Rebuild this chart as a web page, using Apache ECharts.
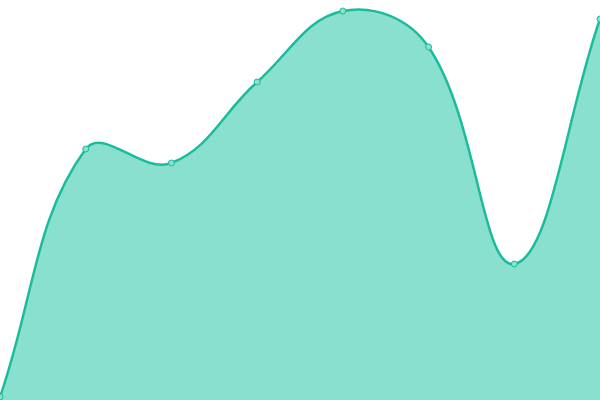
<!DOCTYPE html>
<html>
<head>
<meta charset="utf-8">
<script src="https://cdn.jsdelivr.net/npm/echarts@6/dist/echarts.min.js"></script>
<style>
  html, body { margin: 0; padding: 0; background: #fff; }
  #chart { width: 600px; height: 400px; }
</style>
</head>
<body>
<div id="chart"></div>
<script>
var categories = ['1', '2', '3', '4', '5', '6', '7', '8'];
var values = [3, 251, 237, 318, 389, 353, 136, 381];

var lineColor = '#1abc9c';
var fillColor = '#8ae0ce';
var tension = 0.4;

// cardinal-like spline through the points (pixel space), no y clamping
function splinePath(pts) {
    var d = 'M' + pts[0][0] + ' ' + pts[0][1];
    var cps = pts.map(function (p, i) {
        var prev = pts[i - 1] || p;
        var next = pts[i + 1] || p;
        var d01 = Math.hypot(p[0] - prev[0], p[1] - prev[1]);
        var d12 = Math.hypot(next[0] - p[0], next[1] - p[1]);
        var s = d01 + d12 || 1;
        var fa = tension * d01 / s, fb = tension * d12 / s;
        return {
            prev: [p[0] - fa * (next[0] - prev[0]), p[1] - fa * (next[1] - prev[1])],
            next: [p[0] + fb * (next[0] - prev[0]), p[1] + fb * (next[1] - prev[1])]
        };
    });
    for (var i = 1; i < pts.length; i++) {
        var a = cps[i - 1].next, b = cps[i].prev, p = pts[i];
        d += ' C' + a[0] + ' ' + a[1] + ' ' + b[0] + ' ' + b[1] + ' ' + p[0] + ' ' + p[1];
    }
    return d;
}

var chart = echarts.init(document.getElementById('chart'));
chart.setOption({
    animation: false,
    grid: { left: 0, right: 0, top: 0, bottom: 0, containLabel: false },
    xAxis: {
        type: 'category',
        data: categories,
        boundaryGap: false,
        show: false
    },
    yAxis: {
        type: 'value',
        min: 0,
        max: 400,
        show: false
    },
    series: [{
        type: 'custom',
        data: [[0, 0]],
        silent: true,
        z: 1,
        renderItem: function (params, api) {
            var pts = values.map(function (v, i) { return api.coord([i, v]); });
            var base = api.coord([0, 0])[1];
            var curve = splinePath(pts);
            var last = pts[pts.length - 1];
            var area = curve + ' L' + last[0] + ' ' + base + ' L' + pts[0][0] + ' ' + base + ' Z';
            return {
                type: 'group',
                children: [{
                    type: 'path',
                    shape: { pathData: area },
                    style: { fill: fillColor, stroke: null }
                }, {
                    type: 'path',
                    shape: { pathData: curve },
                    style: { fill: null, stroke: lineColor, lineWidth: 2.5 }
                }]
            };
        }
    }, {
        type: 'line',
        data: values,
        z: 3,
        symbol: 'circle',
        symbolSize: 6,
        showAllSymbol: true,
        itemStyle: { color: fillColor, borderColor: lineColor, borderWidth: 1 },
        lineStyle: { opacity: 0 }
    }]
});
</script>
</body>
</html>
